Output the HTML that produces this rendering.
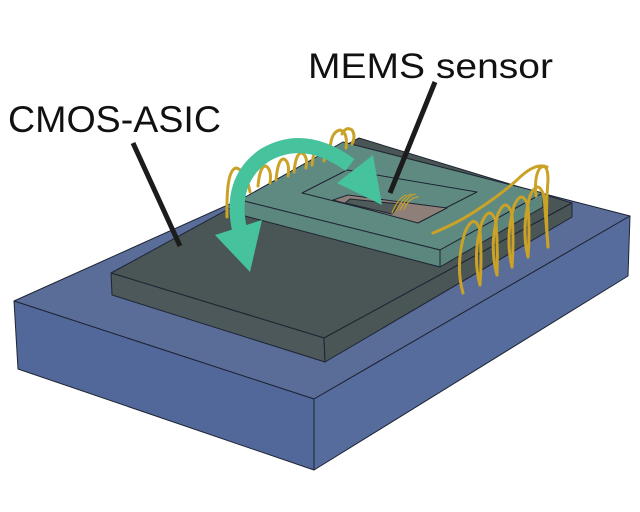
<!DOCTYPE html>
<html><head><style>html,body{margin:0;padding:0;background:#fff;overflow:hidden;width:640px;height:512px}svg{display:block}</style></head>
<body>
<svg width="640" height="512" viewBox="0 0 640 512" xmlns="http://www.w3.org/2000/svg">
<g stroke="#1e2433" stroke-width="1" stroke-linejoin="round">
  <!-- base -->
  <polygon points="14,301 359,146 630,216 314,399" fill="#5a6d99"/>
  <polygon points="14,301 314,399 314,470 18,369" fill="#52679a"/>
  <polygon points="314,399 630,216 628,276 314,470" fill="#566c9c"/>
  <!-- ASIC -->
  <polygon points="111,273 359,138 572,203 324,338" fill="#4a5556"/>
  <polygon points="111,273 324,338 325,362 112,295" fill="#4c5859"/>
  <polygon points="324,338 572,203 572,217 325,362" fill="#4a5556"/>
  <!-- MEMS -->
  <polygon points="240,200 343,142 543,193 440,250" fill="#5f8a82"/>
  <polygon points="240,200 440,250 440,267 241,215" fill="#5c877f"/>
  <polygon points="440,250 543,193 543,207 440,267" fill="#5a847c"/>
  <polygon points="302,193 347,170 477,192 418,222" fill="#5f8a82"/>
  <polygon points="333,200 348,195 447,208 418,223" fill="#8e8078"/>
  <polygon points="350,199 400,204 392,214 345,203" fill="#4f5a5a"/>
</g>
<!-- wires -->
<g fill="none" stroke="#c9a227" stroke-width="3" stroke-linecap="round">
  <path d="M227,217 Q226,170 236,168 Q246,170 250,192"/>
  <path d="M258,186 Q260,165 266,166 Q272,170 270,183"/>
  <path d="M276,180 Q278,158 284,159 Q290,162 288,176"/>
  <path d="M294,172 Q296,152 302,153 Q308,156 306,168"/>
  <path d="M312,165 Q314,146 320,147 Q326,150 324,161"/>
  <path d="M330,153 Q330,132 340,130 Q348,132 346,148"/>
  <path d="M342,134 Q346,126 352,130 Q356,136 352,144"/>
  <path d="M433,233 Q460,222 480,208 Q500,195 517,180 Q535,162 547,167"/>
  <path d="M463,293 Q455,265 465,232 Q474,212 480,230 Q482,260 480,285"/>
  <path d="M480,285 Q472,255 482,222 Q490,204 496,222 Q498,250 497,275"/>
  <path d="M497,275 Q489,245 498,214 Q506,196 512,214 Q514,240 512,267"/>
  <path d="M512,267 Q505,237 514,206 Q522,188 528,206 Q530,232 528,257"/>
  <path d="M528,257 Q521,228 530,196 Q538,178 544,196 Q546,222 548,247"/>
  <path d="M548,247 Q545,215 548,180 Q548,162 540,168 Q534,176 536,196"/>
  <path d="M392,213 Q398,198 406,195 M396,211 Q403,197 411,194 M400,210 Q407,196 415,194 M404,209 Q410,197 418,197" stroke-width="1.2"/>
</g>
<!-- pointer lines -->
<line x1="133" y1="143" x2="180" y2="246" stroke="#1c1c1c" stroke-width="5"/>
<line x1="435" y1="82" x2="390" y2="193" stroke="#1c1c1c" stroke-width="5"/>
<!-- green arrow -->
<path d="M240,232 Q228,180 265,155 Q305,132 350,165" fill="none" stroke="#46c29d" stroke-width="15"/>
<polygon points="215,235 262,220 250,272" fill="#46c29d"/>
<polygon points="337,183 373,155 382,205" fill="#46c29d"/>
<!-- labels -->
<g font-family="'Liberation Sans', sans-serif" fill="#111">
  <text x="308" y="78" font-size="35" textLength="245" lengthAdjust="spacingAndGlyphs">MEMS sensor</text>
  <text x="8" y="132" font-size="37" textLength="213" lengthAdjust="spacingAndGlyphs">CMOS-ASIC</text>
</g>
</svg>
</body></html>
